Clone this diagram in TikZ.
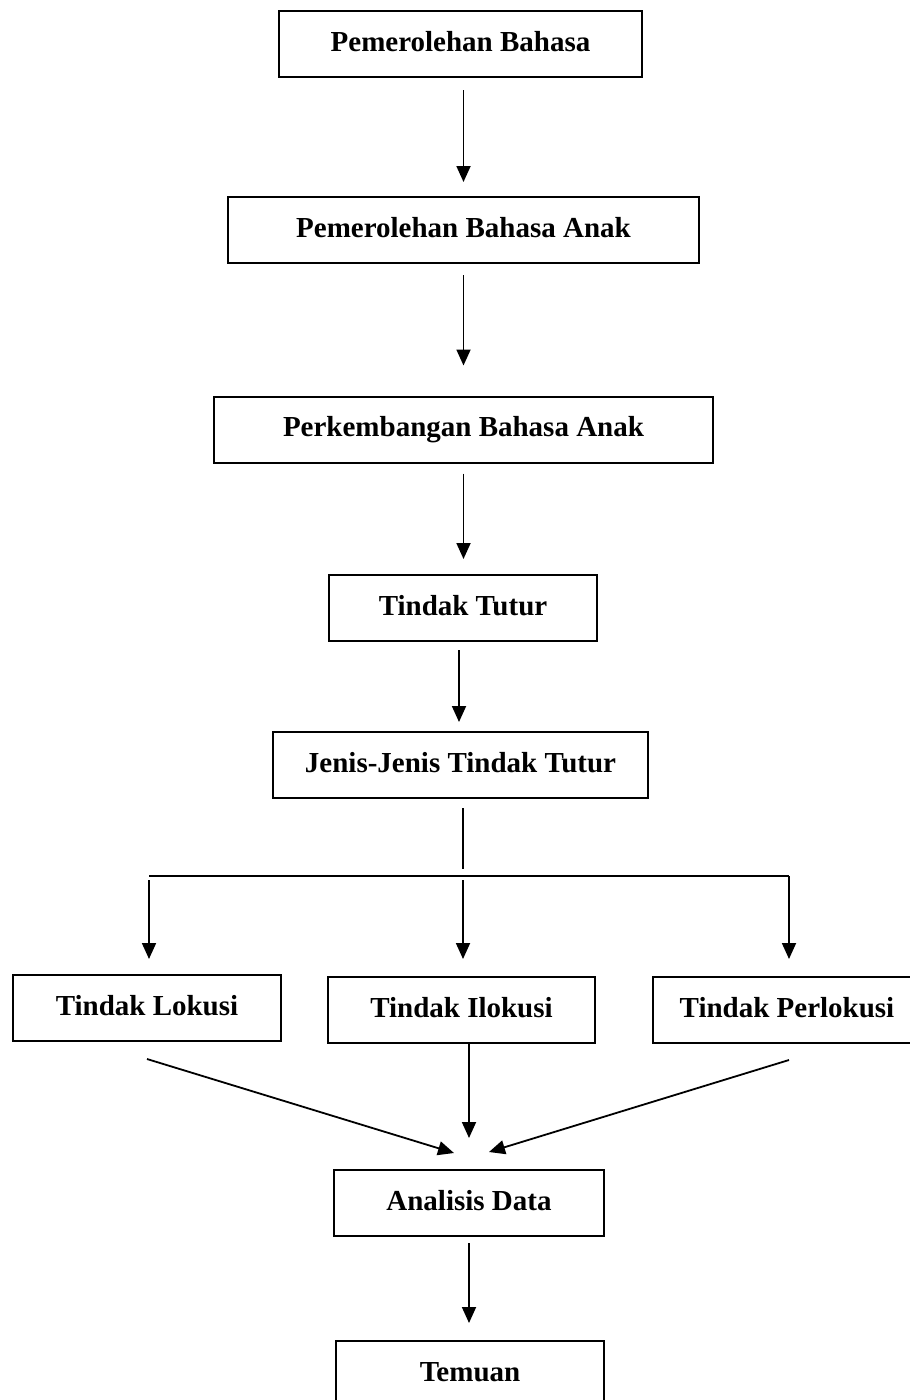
\documentclass[tikz,border=0pt]{standalone}
\usepackage{fontspec}
\setmainfont{Liberation Serif}
\usetikzlibrary{arrows.meta}

\begin{document}
\begin{tikzpicture}[x=1pt, y=-1pt, >={Triangle[length=16pt, width=14pt]},
    box/.style={draw, line width=2pt, inner sep=0pt, minimum height=66pt,
        font=\fontsize{29}{34}\selectfont\bfseries, text height=20pt, text depth=6pt},
    link/.style={line width=1.8pt}]
    \useasboundingbox (0,0) rectangle (910,1400);
    \clip (0,0) rectangle (910,1400);

    % alur utama
    \node[box, minimum width=363pt] (pb) at (460.5,44) {Pemerolehan Bahasa};
    \node[box, minimum width=471pt] (pba) at (463.5,230) {Pemerolehan Bahasa Anak};
    \node[box, minimum width=499pt] (pkba) at (463.5,429.5) {Perkembangan Bahasa Anak};
    \node[box, minimum width=268pt] (tt) at (463,608) {Tindak Tutur};
    \node[box, minimum width=375pt] (jtt) at (460.5,765) {Jenis-Jenis Tindak Tutur};

    % jenis tindak tutur
    \node[box, minimum width=268pt] (lokusi) at (147,1008) {Tindak Lokusi};
    \node[box, minimum width=267pt] (ilokusi) at (461.5,1010) {Tindak Ilokusi};
    \node[box, minimum width=268pt] (perlokusi) at (787,1010) {Tindak Perlokusi};

    % hasil
    \node[box, minimum width=270pt] (analisis) at (469,1203) {Analisis Data};
    \node[box, minimum width=268pt] (temuan) at (470,1374) {Temuan};

    % panah alur utama
    \draw[->, link, shorten <=12pt, shorten >=14pt] (pba.north |- pb.south) -- (pba.north);
    \draw[->, link, shorten <=11pt, shorten >=30pt] (pba.south) -- (pkba.north);
    \draw[->, link, shorten <=10pt, shorten >=15pt] (pkba.south) -- (pkba.south |- tt.north);
    \draw[->, link, shorten <=8pt, shorten >=9pt] ([xshift=-4pt]tt.south) -- ([xshift=-4pt]tt.south |- jtt.north);

    % cabang
    \coordinate (split) at (463,876);
    \coordinate (bl) at (149,876);
    \coordinate (br) at (789,876);
    \draw[link, shorten <=9pt, shorten >=7pt] (jtt.south -| split) -- (split);
    \draw[link] (bl) -- (br);
    \draw[->, link, shorten <=4pt, shorten >=15pt] (bl) -- (lokusi.north -| bl);
    \draw[->, link, shorten <=4pt, shorten >=17pt] (split) -- (ilokusi.north -| split);
    \draw[->, link, shorten >=17pt] (br) -- (perlokusi.north -| br);

    % menuju analisis
    \draw[->, link] ([yshift=-17pt]lokusi.south) -- ([xshift=-15pt, yshift=16pt]analisis.north);
    \draw[->, link, shorten >=31pt] (ilokusi.south -| analisis.north) -- (analisis.north);
    \draw[->, link] ([xshift=2pt, yshift=-16pt]perlokusi.south) -- ([xshift=20pt, yshift=17pt]analisis.north);
    \draw[->, link, shorten <=6pt, shorten >=17pt] (analisis.south) -- (analisis.south |- temuan.north);
\end{tikzpicture}
\end{document}
